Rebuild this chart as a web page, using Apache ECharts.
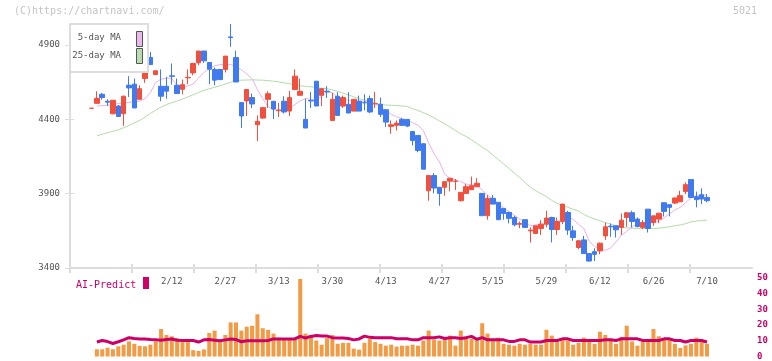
<!DOCTYPE html>
<html>
<head>
<meta charset="utf-8">
<script src="https://cdn.jsdelivr.net/npm/echarts@6/dist/echarts.min.js"></script>
<style>
  html, body { margin: 0; padding: 0; background: #fff; }
  #chart { width: 772px; height: 361px; }
</style>
</head>
<body>
<div id="chart"></div>
<script>
// ---- data ----
const openPrices = [4475,4508,4569,4522,4438,4490,4438,4630,4637,4535,
  4675,4817,4702,4623,4623,4693,4630,4603,4680,4713,
  4781,4860,4783,4736,4736,4736,4955,4817,4513,4524,
  4547,4364,4409,4535,4522,4459,4522,4456,4601,4562,
  4400,4528,4657,4562,4590,4393,4556,4490,4502,4456,
  4522,4513,4540,4505,4502,4465,4353,4360,4400,4400,
  4319,4292,4236,3920,4022,3943,3943,3984,3983,3853,
  3902,3927,3947,3902,3752,3869,3842,3801,3774,3740,
  3694,3725,3650,3632,3666,3695,3740,3659,3713,3774,
  3650,3538,3589,3497,3510,3515,3616,3682,3684,3673,
  3740,3772,3729,3673,3796,3706,3729,3839,3826,3837,
  3846,3914,3995,3880,3893,3875];
const closePrices = [4475,4542,4547,4516,4529,4420,4556,4612,4477,4607,
  4776,4769,4727,4556,4590,4690,4574,4634,4683,4776,
  4860,4794,4738,4664,4668,4826,4950,4652,4423,4601,
  4504,4387,4479,4573,4470,4463,4450,4547,4691,4589,
  4342,4524,4490,4607,4585,4535,4427,4547,4443,4535,
  4456,4512,4450,4506,4434,4382,4364,4375,4360,4355,
  4258,4191,4065,4022,3938,3902,3981,4004,3985,3909,
  3947,3954,3970,3752,3869,3830,3725,3767,3734,3691,
  3700,3673,3655,3684,3695,3736,3659,3713,3830,3655,
  3605,3583,3497,3447,3492,3567,3677,3677,3657,3722,
  3772,3713,3679,3706,3666,3751,3769,3781,3808,3871,
  3887,3961,3875,3860,3864,3853];
const lowPrices = [4475,4508,4533,4490,4434,4416,4357,4551,4477,4535,
  4646,4767,4697,4522,4540,4634,4574,4569,4637,4697,
  4765,4781,4637,4630,4664,4716,4889,4652,4342,4423,
  4477,4254,4404,4477,4402,4416,4440,4423,4601,4562,
  4342,4477,4490,4490,4544,4393,4427,4477,4443,4456,
  4456,4461,4443,4477,4416,4348,4303,4326,4355,4348,
  4224,4179,4065,3853,3902,3819,3887,3916,3925,3848,
  3902,3927,3947,3752,3725,3830,3725,3725,3700,3680,
  3668,3673,3572,3628,3623,3673,3572,3623,3695,3623,
  3583,3526,3497,3443,3447,3492,3589,3610,3605,3623,
  3677,3673,3673,3661,3639,3684,3702,3747,3747,3830,
  3842,3898,3875,3808,3830,3842];
const highPrices = [4475,4589,4578,4535,4529,4497,4560,4691,4675,4630,
  4776,4853,4727,4736,4687,4776,4675,4668,4736,4781,
  4860,4860,4783,4749,4738,4826,5042,4862,4513,4605,
  4574,4427,4485,4589,4522,4511,4556,4592,4736,4675,
  4540,4585,4657,4607,4623,4578,4583,4560,4583,4535,
  4560,4569,4560,4585,4547,4465,4393,4393,4411,4400,
  4319,4292,4240,4022,4038,3943,3981,4004,3999,3909,
  3965,4015,4004,3902,3891,3891,3842,3801,3779,3752,
  3713,3725,3673,3684,3722,3785,3745,3740,3830,3785,
  3684,3589,3616,3497,3533,3571,3706,3700,3684,3767,
  3772,3785,3740,3722,3796,3751,3769,3839,3826,3875,
  3920,3977,3995,3914,3936,3898];
const ma5 = [null,4490,4493,4495,4500,4506,4510,4515,4520,4522,
  4540,4580,4650,4670,4679,4675,4630,4619,4625,4637,
  4680,4715,4745,4760,4769,4768,4770,4754,4735,4705,
  4675,4600,4540,4485,4465,4461,4461,4475,4500,4525,
  4540,4535,4529,4555,4585,4580,4545,4535,4529,4526,
  4524,4522,4518,4505,4483,4460,4434,4418,4405,4395,
  4378,4360,4326,4240,4170,4115,4030,4005,3993,3980,
  3965,3960,3954,3925,3890,3864,3835,3805,3780,3755,
  3729,3710,3685,3690,3695,3695,3695,3700,3735,3752,
  3725,3695,3665,3580,3545,3526,3519,3535,3575,3620,
  3646,3675,3698,3697,3700,3706,3713,3738,3765,3790,
  3808,3840,3870,3888,3891,3891];
const ma25 = [null,4290,4300,4310,4320,4330,4344,4360,4377,4393,
  4415,4440,4462,4483,4500,4512,4524,4538,4551,4566,
  4581,4596,4606,4616,4626,4638,4650,4660,4664,4665,
  4666,4665,4664,4661,4657,4652,4646,4640,4633,4627,
  4622,4619,4614,4610,4607,4598,4588,4576,4564,4552,
  4540,4529,4518,4508,4500,4497,4495,4493,4490,4488,
  4472,4460,4445,4430,4411,4390,4370,4348,4325,4302,
  4285,4262,4238,4213,4190,4160,4130,4100,4070,4040,
  4008,3975,3943,3920,3900,3880,3855,3835,3820,3808,
  3795,3783,3760,3743,3730,3718,3705,3695,3685,3675,
  3670,3668,3666,3665,3665,3666,3668,3672,3678,3684,
  3690,3698,3710,3716,3720,3722];
const volumes = [null,4.6,4.6,5.6,4.6,6.5,7.5,9.6,8.1,6.8,
  6.5,7.5,9.6,17.5,13.7,12.9,11.7,9.2,9.2,4,
  3.5,4.5,15,16.5,10,13.7,21.7,21.7,16.5,19,
  19.6,26.9,18,17,14.6,12,10.8,10.8,10.8,49.4,
  14.6,13.7,10.2,7.5,11.7,13.7,8.1,8.7,8.7,5,
  4.4,8.7,11.2,9.2,8.1,6.9,7.5,6.3,6.9,6.9,
  7.5,6.9,10.2,16.5,10.8,10.2,11.2,13.3,6.9,16.5,
  12.7,11.2,11.2,21.2,14.6,10.2,12,8.1,7.5,6.9,
  8.1,7.5,8.1,7.5,7.5,17,13.3,9.2,11.2,10.2,
  7.5,8.7,12,10.8,8.1,15.8,13.7,11.2,8.1,12.5,
  19.6,9.6,6.9,9.2,11.2,17.5,12.9,10.8,11.2,8.1,
  5.4,7.1,8.1,12,9.2,8.1];
const aiPredict = [null,9.2,10.2,9.5,8.3,9.4,10.6,12.0,11.4,11.2,
  11.2,10.8,10.6,10.4,10.8,11.2,10.4,10.2,10.2,10.2,
  9.2,10.6,10.8,10.4,10.0,10.6,11.2,10.8,9.4,10,
  10,10,10,10.2,11.2,11.2,11.2,11.2,11.2,12.8,
  11.8,12.8,13.4,13.0,13.0,12.0,11.8,11.8,11.5,10.6,
  11.2,13.0,12.2,12.0,12,12,12,11.25,11.25,11.25,
  10.6,10.6,12,12,12,12.5,11.5,12,12,11.5,
  12,12.8,11,12,10.6,10.6,10.6,10.6,9.6,9.6,
  10.6,10.6,9.2,9.2,9.2,10.2,10.2,10.2,11.25,11.25,
  10.2,10.2,10.2,10.2,10.2,10.2,10.6,10.6,10.2,11.25,
  11.25,11.25,11.25,10.2,10.2,10.2,10.2,11.25,11.25,10.2,
  10.2,9.2,10.2,10.2,10.2,9.2];
const dateLabels = ['2/12','2/27','3/13','3/30','4/13','4/27','5/15','5/29','6/12','6/26','7/10'];
const dateLabelIdx = [15,25,35,45,55,65,75,85,95,105,115];
const priceTicks = [3400,3900,4400,4900];

// ---- layout helpers ----
const FONT = 'DejaVu Sans Mono';
const xMin = -4.02, xMax = 123.41;
const xTickVals = [];
for (let k = 0; k <= 11; k++) xTickVals.push(xMin + (xMax - xMin) * k / 11);

const candleData = openPrices.map((o, i) => [i, o, closePrices[i], lowPrices[i], highPrices[i]]);
const ma5Data = ma5.map((v, i) => [i, v]);
const ma25Data = ma25.map((v, i) => [i, v]);
const volData = volumes.map((v, i) => [i, v]);
const aiData = aiPredict.map((v, i) => [i, v]);

const chart = echarts.init(document.getElementById('chart'));
const option = {
  animation: false,
  backgroundColor: '#fff',
  grid: [
    { left: 70, right: 20, top: 24, height: 244 },
    { left: 70, right: 20, top: 278, height: 80 }
  ],
  xAxis: [
    {
      type: 'value', gridIndex: 0, min: xMin, max: xMax,
      splitLine: { show: false },
      axisLine: { show: true, onZero: false, lineStyle: { color: '#dddddd', width: 2 } },
      axisTick: { show: true, length: 5, customValues: xTickVals, lineStyle: { color: '#dddddd', width: 2 } },
      axisLabel: {
        customValues: dateLabelIdx, margin: 9,
        color: '#555', fontFamily: FONT, fontSize: 9,
        formatter: v => dateLabels[dateLabelIdx.indexOf(Math.round(v))] || ''
      }
    },
    {
      type: 'value', gridIndex: 0, min: xMin, max: xMax, position: 'bottom',
      splitLine: { show: false }, axisLine: { show: false, onZero: false }, axisLabel: { show: false },
      axisTick: { show: true, inside: true, length: 4, customValues: xTickVals, lineStyle: { color: '#dddddd', width: 2 } }
    },
    {
      type: 'value', gridIndex: 1, min: xMin, max: xMax, show: false
    }
  ],
  yAxis: [
    {
      type: 'value', gridIndex: 0, min: 3400, max: 5042,
      splitLine: { show: false },
      axisLine: { show: true, onZero: false, lineStyle: { color: '#dddddd', width: 2 } },
      axisTick: { show: true, length: 5, customValues: priceTicks, lineStyle: { color: '#dddddd', width: 1 } },
      axisLabel: { customValues: priceTicks, margin: 10, color: '#555', fontFamily: FONT, fontSize: 9, formatter: v => String(v) }
    },
    {
      type: 'value', gridIndex: 0, min: 3400, max: 5042, position: 'left',
      splitLine: { show: false }, axisLine: { show: false, onZero: false }, axisLabel: { show: false },
      axisTick: { show: true, inside: true, length: 4, customValues: priceTicks, lineStyle: { color: '#dddddd', width: 1 } }
    },
    {
      type: 'value', gridIndex: 1, min: 0, max: 50, interval: 10, position: 'right',
      splitLine: { show: false }, axisLine: { show: false, onZero: false }, axisTick: { show: false },
      axisLabel: { margin: 5, color: '#cc0066', fontFamily: FONT, fontSize: 9, fontWeight: 'bold' }
    }
  ],
  graphic: [
    { type: 'text', left: 14, top: 6, style: { text: '(C)https://chartnavi.com/', fill: '#c4c4c4', font: '10px "DejaVu Sans Mono"' } },
    { type: 'text', right: 15, top: 6, style: { text: '5021', fill: '#c4c4c4', font: '10px "DejaVu Sans Mono"' } },
    { type: 'rect', shape: { x: 70, y: 24, width: 78, height: 48 }, style: { fill: '#fff', stroke: '#dddddd', lineWidth: 2 }, z: 100 },
    { type: 'text', x: 121, y: 38, z: 101, style: { text: '5-day MA', fill: '#555', font: '9px "DejaVu Sans Mono"', align: 'right', verticalAlign: 'middle' } },
    { type: 'text', x: 121, y: 56, z: 101, style: { text: '25-day MA', fill: '#555', font: '9px "DejaVu Sans Mono"', align: 'right', verticalAlign: 'middle' } },
    { type: 'rect', z: 101, shape: { x: 136.5, y: 31.5, width: 6, height: 15 }, style: { fill: '#ebb8eb', stroke: '#555', lineWidth: 1 } },
    { type: 'rect', z: 101, shape: { x: 136.5, y: 48.5, width: 6, height: 15 }, style: { fill: '#b8ddb0', stroke: '#555', lineWidth: 1 } },
    { type: 'text', x: 76, y: 285, style: { text: 'AI-Predict', fill: '#cc0066', font: '10px "DejaVu Sans Mono"', verticalAlign: 'middle' } },
    { type: 'rect', shape: { x: 143, y: 277, width: 6, height: 12 }, style: { fill: '#cc0066' } }
  ],
  series: [
    {
      name: '25-day MA', type: 'line', xAxisIndex: 0, yAxisIndex: 0, data: ma25Data,
      showSymbol: false, lineStyle: { color: '#b3dca8', width: 1 }, z: 2
    },
    {
      name: '5-day MA', type: 'line', xAxisIndex: 0, yAxisIndex: 0, data: ma5Data,
      showSymbol: false, lineStyle: { color: '#e8b3ea', width: 1 }, z: 2
    },
    {
      type: 'candlestick', xAxisIndex: 0, yAxisIndex: 0, data: candleData,
      encode: { x: 0, y: [1, 2, 3, 4] }, barWidth: 5, z: 3,
      itemStyle: { color: '#f2503f', color0: '#3f7aee', borderColor: '#f2503f', borderColor0: '#3f7aee', borderWidth: 1 }
    },
    {
      type: 'bar', xAxisIndex: 2, yAxisIndex: 2, data: volData, barWidth: 4,
      itemStyle: { color: '#f29a44' }
    },
    {
      type: 'line', xAxisIndex: 2, yAxisIndex: 2, data: aiData, showSymbol: false,
      lineStyle: { color: '#cc0066', width: 3 }
    }
  ]
};
chart.setOption(option);
</script>
</body>
</html>
